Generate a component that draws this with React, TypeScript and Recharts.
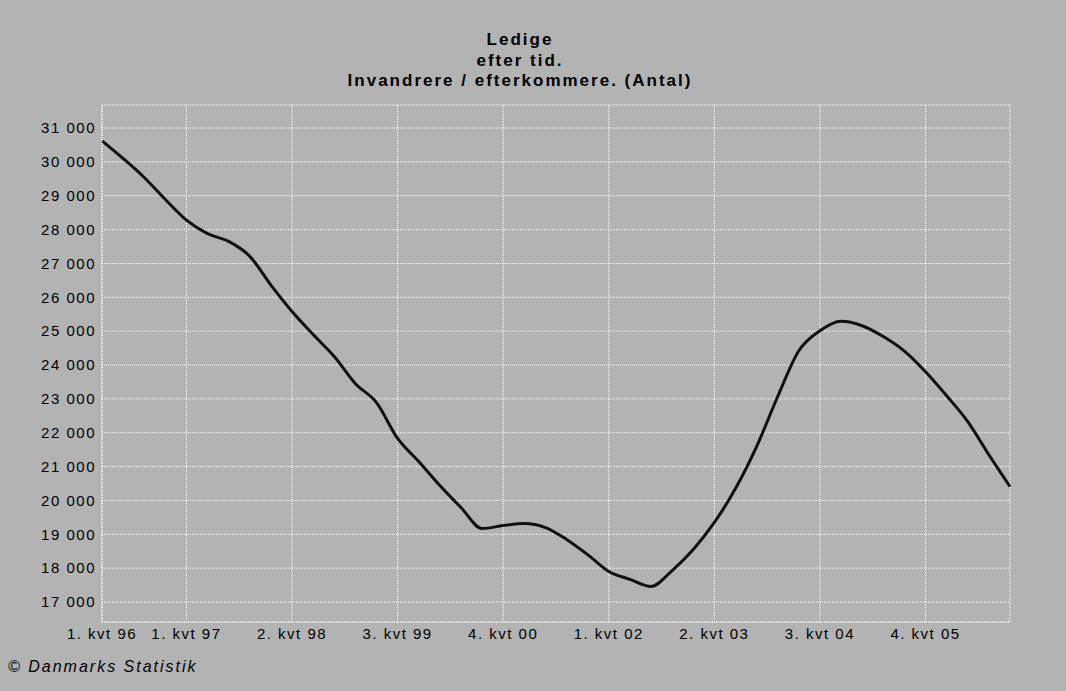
import { CartesianGrid, Line, LineChart, XAxis, YAxis } from 'recharts';

// quarters 1996Q1 .. 2006Q4
const years = ['96', '97', '98', '99', '00', '01', '02', '03', '04', '05', '06'];
const quarters = ['1', '2', '3', '4'];

// ledige invandrere / efterkommere
const ledige = [
  30620, 30100, 29540, 28890, 28280, 27880, 27650, 27210,
  26360, 25580, 24900, 24250, 23450, 22890, 21830, 21150,
  20440, 19790, 19170, 19260, 19320, 19200, 18850, 18400,
  17900, 17670, 17460, 17930, 18550, 19350, 20350, 21590,
  23070, 24420, 25010, 25290, 25160, 24840, 24410, 23800,
  23090, 22330, 21350, 20410,
];

const xTicks = [
  '1. kvt 96', '1. kvt 97', '2. kvt 98', '3. kvt 99', '4. kvt 00',
  '1. kvt 02', '2. kvt 03', '3. kvt 04', '4. kvt 05',
];
const yTicks = [17000, 18000, 19000, 20000, 21000, 22000, 23000, 24000, 25000, 26000, 27000, 28000, 29000, 30000, 31000];

const labels = years.flatMap((y) => quarters.map((q) => `${q}. kvt ${y}`));
const chartData = labels.map((q, i) => ({ q, ledige: ledige[i] }));

const font = '"Liberation Sans", Arial, sans-serif';
const tickStyle = { fill: '#000', fontSize: 15, fontFamily: font, letterSpacing: 1.5 };
const dotted = { stroke: '#fff', strokeDasharray: '1 1', strokeWidth: 1 };

const fmt = (v: number) => v.toLocaleString('en-US').replace(',', ' ');

export default function App() {
  return (
    <div
      style={{
        position: 'absolute',
        left: 0,
        top: 0,
        width: 1066,
        height: 691,
        background: '#b3b3b3',
        fontFamily: font,
        overflow: 'hidden',
      }}
    >
      <div style={{ position: 'absolute', left: 0, width: 1040, top: 30, textAlign: 'center', fontWeight: 'bold', fontSize: 17, letterSpacing: 2, lineHeight: '20.5px' }}>
        <div>Ledige</div>
        <div>efter tid.</div>
        <div>Invandrere / efterkommere. (Antal)</div>
      </div>

      <LineChart width={1066} height={691} data={chartData} margin={{ top: 105, right: 56, left: 0, bottom: 0 }}>
        <CartesianGrid stroke="#fff" strokeDasharray="1 1" />
        <XAxis
          dataKey="q"
          ticks={xTicks}
          interval={0}
          height={69}
          tickSize={0}
          tickMargin={6}
          axisLine={dotted}
          tick={tickStyle}
        />
        <XAxis xAxisId="top" dataKey="q" orientation="top" height={0} tick={false} tickLine={false} axisLine={dotted} />
        <YAxis
          domain={[16410, 31680]}
          ticks={yTicks}
          interval={0}
          width={102}
          tickSize={0}
          tickMargin={6}
          axisLine={dotted}
          tick={tickStyle}
          tickFormatter={fmt}
        />
        <YAxis yAxisId="right" orientation="right" width={0} domain={[16410, 31680]} tick={false} tickLine={false} axisLine={dotted} />
        <Line
          type="monotone"
          dataKey="ledige"
          stroke="#111"
          strokeWidth={3}
          dot={false}
          activeDot={false}
          isAnimationActive={false}
        />
      </LineChart>

      <div style={{ position: 'absolute', left: 8, top: 658, fontStyle: 'italic', fontSize: 16, letterSpacing: 2, color: '#000' }}>
        © Danmarks Statistik
      </div>
    </div>
  );
}
